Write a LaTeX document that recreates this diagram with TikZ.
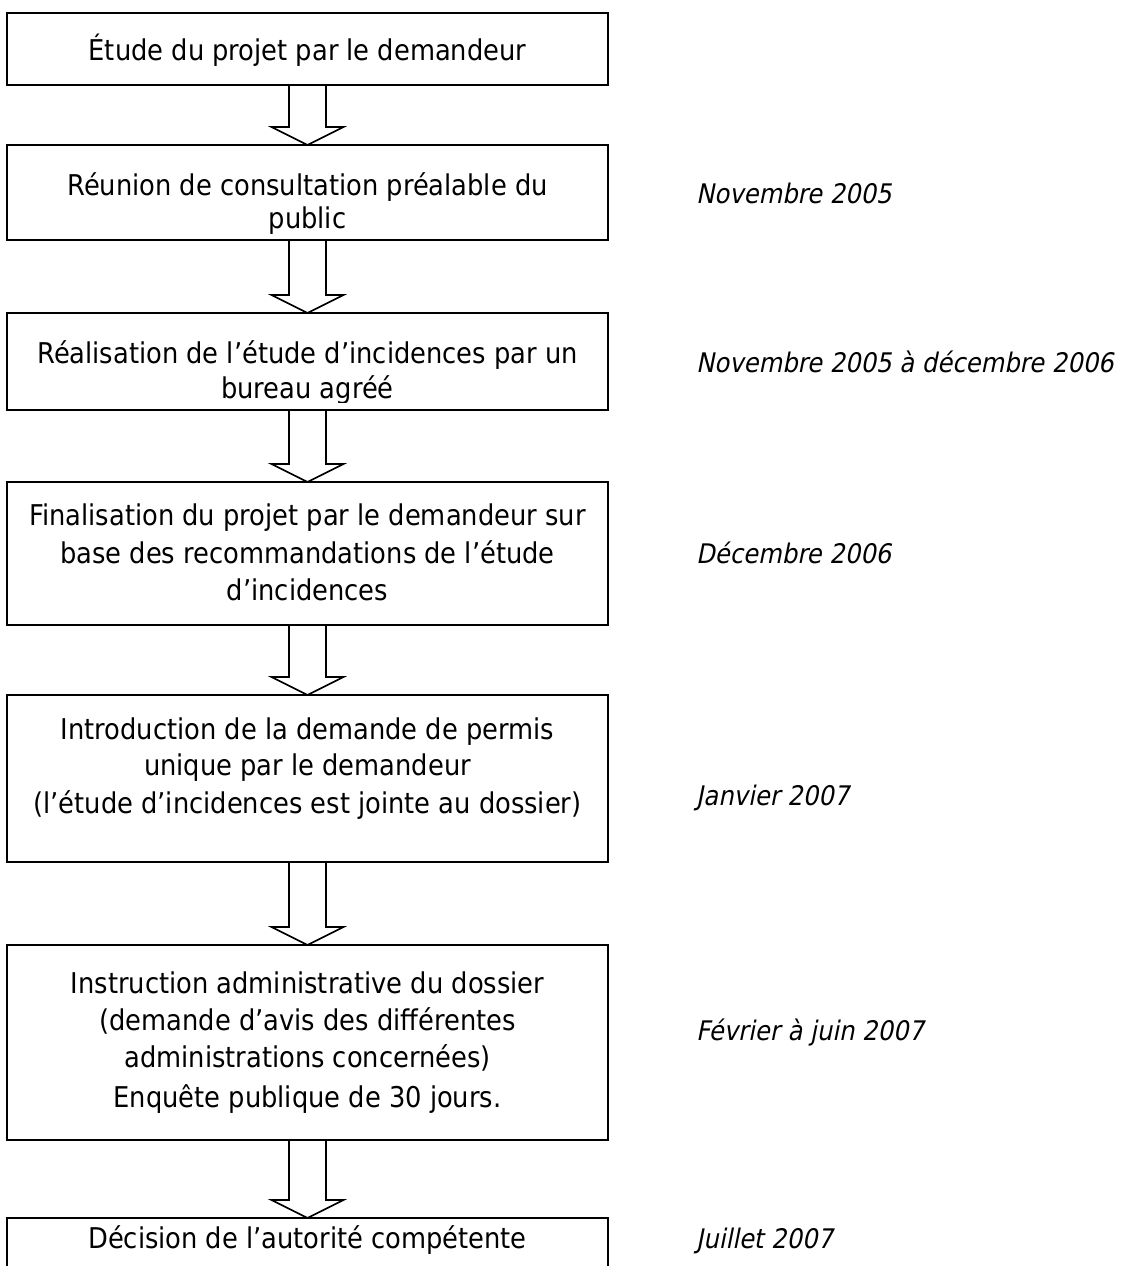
\documentclass[tikz,border=0pt]{standalone}
\usepackage{fontspec}
\setmainfont{DejaVu Sans}[FakeStretch=0.9]
\newfontfamily\datefont{DejaVu Sans}[FakeStretch=0.9,FakeSlant=0.2]
\usetikzlibrary{calc}
\newcommand\blockarr[2]{\draw[blockarrow] ($(#1.south)+(-18.5,0)$) -- ($(#2.north)+(-18.5,-18)$) -- ($(#2.north)+(-36,-18)$) -- (#2.north) -- ($(#2.north)+(36,-18)$) -- ($(#2.north)+(18.5,-18)$) -- ($(#1.south)+(18.5,0)$);}
\begin{document}
\begin{tikzpicture}[x=1pt,y=-1pt,
  box/.style={draw, line width=2.2pt, minimum width=601pt, inner sep=0pt, outer sep=0pt},
  txt/.style={anchor=base, inner sep=0pt, font=\fontsize{28.6}{36}\selectfont},
  datetxt/.style={anchor=base west, inner sep=0pt, font=\datefont\fontsize{27.0}{36}\selectfont},
  blockarrow/.style={draw, line width=1.7pt, line join=miter}]
\clip (0,0) rectangle (1125,1266);
\fill[white] (0,0) rectangle (1125,1266);
% boxes
\node[box, minimum height=72pt]  (b1) at (307.5,49) {};
\node[box, minimum height=95pt]  (b2) at (307.5,192.5) {};
\node[box, minimum height=97pt]  (b3) at (307.5,361.5) {};
\node[box, minimum height=143pt] (b4) at (307.5,553.5) {};
\node[box, minimum height=167pt] (b5) at (307.5,778.5) {};
\node[box, minimum height=195pt] (b6) at (307.5,1042.5) {};
\node[box, minimum height=100pt] (b7) at (307.5,1268) {};
% arrows
\blockarr{b1}{b2}
\blockarr{b2}{b3}
\blockarr{b3}{b4}
\blockarr{b4}{b5}
\blockarr{b5}{b6}
\blockarr{b6}{b7}
% box texts
\node[txt] (t1) at (307.5,60) {Étude du projet par le demandeur};
\node[txt] (t2a) at (307.5,195) {Réunion de consultation préalable du};
\node[txt] (t2b) at (307.5,228) {public};
\node[txt] (t3a) at (307.5,363) {Réalisation de l’étude d’incidences par un};
\begin{scope}
\clip (0,300) rectangle (1125,402);
\node[txt] (t3b) at (307.5,398) {bureau agréé};
\end{scope}
\node[txt] (t4a) at (307.5,525) {Finalisation du projet par le demandeur sur};
\node[txt] (t4b) at (307.5,563) {base des recommandations de l’étude};
\node[txt] (t4c) at (307.5,600) {d’incidences};
\node[txt] (t5a) at (307.5,739) {Introduction de la demande de permis};
\node[txt] (t5b) at (307.5,775) {unique par le demandeur};
\node[txt] (t5c) at (307.5,813) {(l’étude d’incidences est jointe au dossier)};
\node[txt] (t6a) at (307.5,993) {Instruction administrative du dossier};
\node[txt] (t6b) at (307.5,1030) {(demande d’avis des différentes};
\node[txt] (t6c) at (307.5,1067) {administrations concernées)};
\node[txt] (t6d) at (307.5,1107) {Enquête publique de 30 jours.};
\node[txt] (t7) at (307.5,1248) {Décision de l’autorité compétente};
% dates
\node[datetxt] (d2) at (696,203) {Novembre 2005};
\node[datetxt] (d3) at (696,372) {Novembre 2005 à décembre 2006};
\node[datetxt] (d4) at (696,563) {Décembre 2006};
\node[datetxt] (d5) at (696,805) {Janvier 2007};
\node[datetxt] (d6) at (696,1040) {Février à juin 2007};
\node[datetxt] (d7) at (696,1248) {Juillet 2007};
\end{tikzpicture}
\end{document}
